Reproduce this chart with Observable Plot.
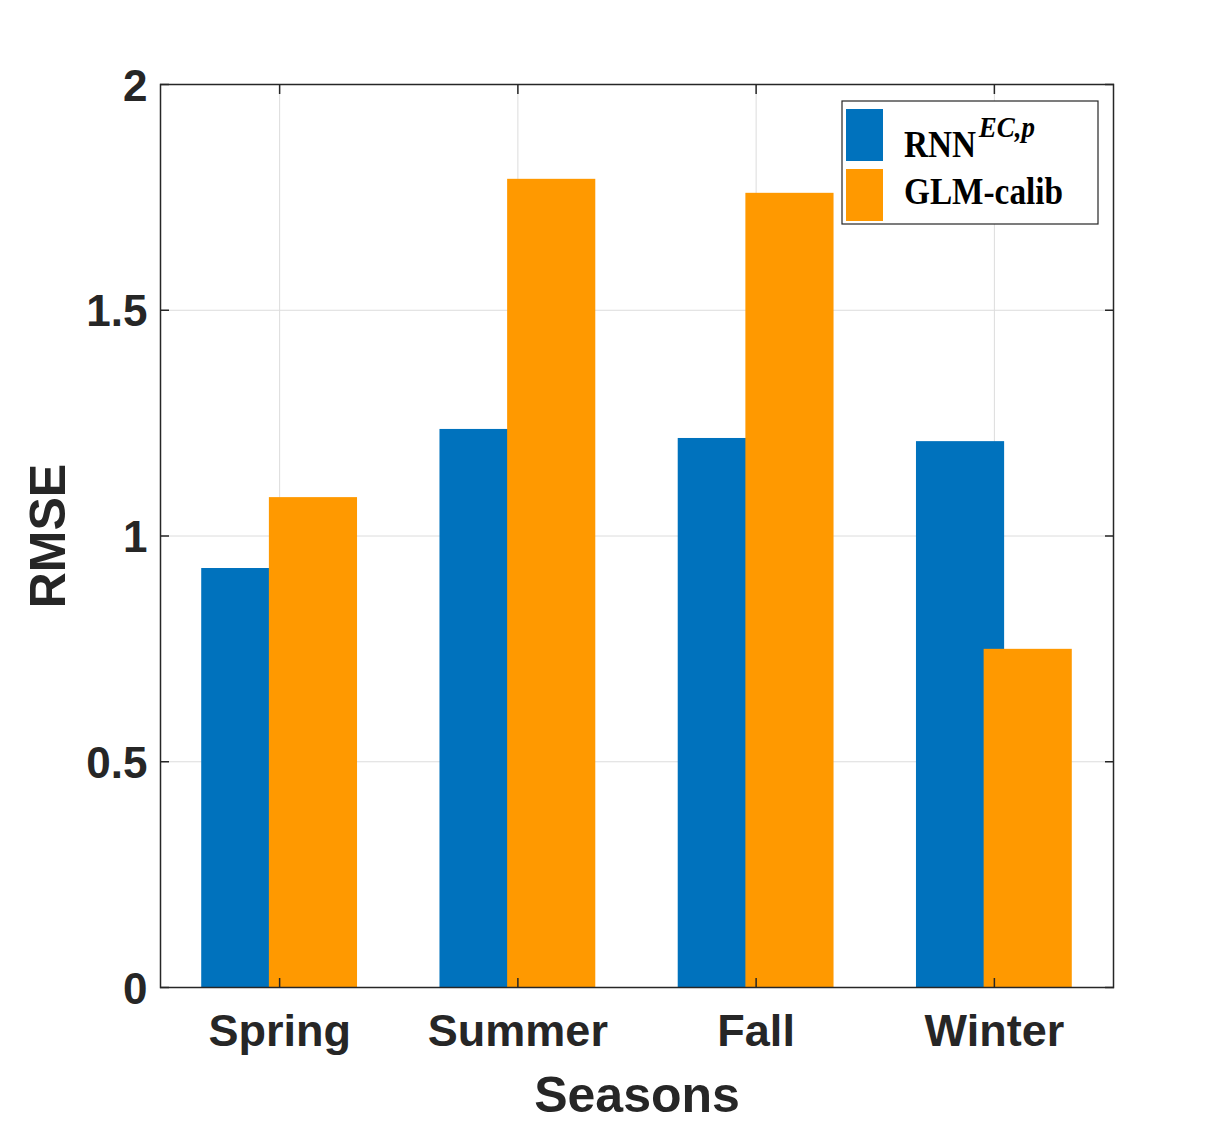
<!DOCTYPE html>
<html><head><meta charset="utf-8">
<script src="https://cdn.jsdelivr.net/npm/d3@7"></script>
<script src="https://cdn.jsdelivr.net/npm/@observablehq/plot@0.6"></script>
<style>
html,body{margin:0;padding:0;background:#fff;}
#chart{position:relative;width:1232px;height:1125px;}
</style>
</head><body><div id="chart"></div>
<script>
const seasons = ["Spring", "Summer", "Fall", "Winter"];
const rnnValues = [0.928, 1.236, 1.216, 1.209];
const glmValues = [1.085, 1.790, 1.759, 0.749];
const seriesNames = ["RNN", "GLM-calib"];
const seriesColors = ["#0072bd", "#ff9900"];
const yTicks = [0, 0.5, 1, 1.5, 2];
const xTicks = [1, 2, 3, 4];

const barHalf = 0.185, barShift = 0.142;
const rnnData = seasons.map((s, i) => ({season: s, idx: i + 1, v: rnnValues[i]}));
const glmData = seasons.map((s, i) => ({season: s, idx: i + 1, v: glmValues[i]}));

const ink = "#262626";
const sans = "'Liberation Sans', Arial, sans-serif";

const plot = Plot.plot({
  width: 1232, height: 1125,
  marginLeft: 160, marginRight: 119, marginTop: 84, marginBottom: 138,
  style: {fontFamily: sans, background: "#fff", color: ink},
  x: {domain: [0.5, 4.5]},
  y: {domain: [0, 2]},
  marks: [
    Plot.gridX(xTicks, {stroke: "#dcdcdc", strokeOpacity: 1, strokeWidth: 1}),
    Plot.gridY(yTicks, {stroke: "#dcdcdc", strokeOpacity: 1, strokeWidth: 1}),
    Plot.rectY(rnnData, {x1: d => d.idx - barShift - barHalf, x2: d => d.idx - barShift + barHalf, y1: 0, y2: "v", fill: seriesColors[0]}),
    Plot.rectY(glmData, {x1: d => d.idx + barShift - barHalf, x2: d => d.idx + barShift + barHalf, y1: 0, y2: "v", fill: seriesColors[1]}),
    Plot.axisY(yTicks, {anchor: "left", tickSize: 0, tickPadding: 13, dy: 2, fontSize: 44, fontWeight: "bold", fill: ink, label: null, tickFormat: d => String(d)}),
    Plot.axisY(yTicks, {anchor: "left", tickSize: -9, stroke: ink, strokeWidth: 1.5, label: null, tickFormat: () => ""}),
    Plot.axisY(yTicks, {anchor: "right", tickSize: -9, stroke: ink, strokeWidth: 1.5, label: null, tickFormat: () => ""}),
    Plot.axisX(xTicks, {anchor: "bottom", tickSize: 0, tickPadding: 27, fontSize: 45, fontWeight: "bold", fill: ink, label: null, tickFormat: d => seasons[d - 1]}),
    Plot.axisX(xTicks, {anchor: "bottom", tickSize: -9, stroke: ink, strokeWidth: 1.5, label: null, tickFormat: () => ""}),
    Plot.axisX(xTicks, {anchor: "top", tickSize: -9, stroke: ink, strokeWidth: 1.5, label: null, tickFormat: () => ""}),
    Plot.frame({stroke: ink, strokeWidth: 1.5}),
    Plot.text(["RMSE"], {frameAnchor: "left", dx: -96, rotate: -90, textAnchor: "middle", lineAnchor: "bottom", fontSize: 50, fontWeight: "bold", fill: ink}),
    Plot.text(["Seasons"], {frameAnchor: "bottom", dy: 124, textAnchor: "middle", lineAnchor: "bottom", fontSize: 50, fontWeight: "bold", fill: ink})
  ]
});
document.getElementById("chart").appendChild(plot);

// legend
const svg = d3.select(plot);
const lg = svg.append("g").attr("class", "legend");
lg.append("rect").attr("x", 842).attr("y", 101).attr("width", 256).attr("height", 123)
  .attr("fill", "#fff").attr("stroke", ink).attr("stroke-width", 1.2);
const serif = "'Liberation Serif', 'DejaVu Serif', serif";
seriesNames.forEach((name, i) => {
  lg.append("rect").attr("x", 846).attr("y", 109 + i * 60).attr("width", 37).attr("height", 52).attr("fill", seriesColors[i]);
  const t = lg.append("g").attr("transform", `translate(904,${157 + i * 47}) scale(0.9,1)`)
    .append("text").attr("x", 0).attr("y", 0)
    .attr("text-anchor", "start")
    .attr("font-family", serif).attr("font-weight", "bold").attr("font-size", 37).attr("fill", "#000");
  t.append("tspan").text(name);
  if (i === 0) {
    t.append("tspan").attr("dy", -20).attr("dx", 3).attr("font-size", 30).attr("font-style", "italic").text("EC,p");
  }
});
</script></body></html>
